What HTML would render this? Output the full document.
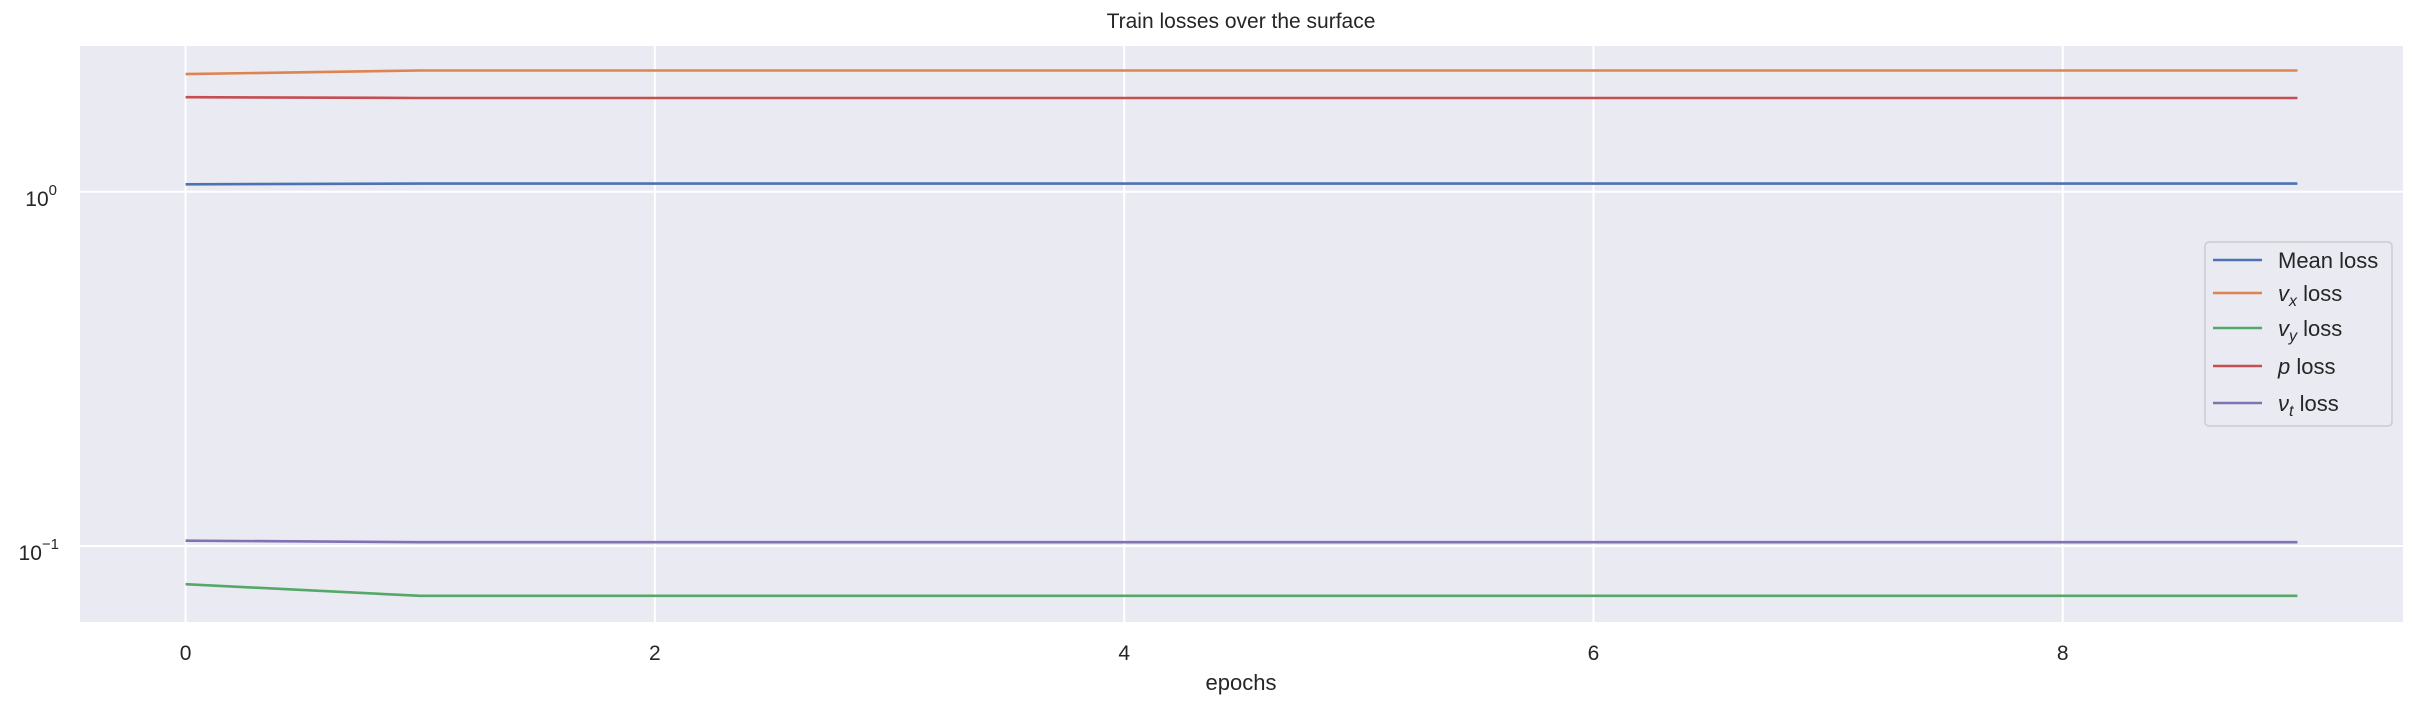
<!DOCTYPE html>
<html><head><meta charset="utf-8"><style>
body{margin:0;background:#fff;width:2418px;height:709px;overflow:hidden}
svg{display:block;font-family:"Liberation Sans",sans-serif}
</style></head><body>
<svg id="chart" width="2418" height="709">
<text x="1241" y="28" font-size="21" fill="#262626" text-anchor="middle">Train losses over the surface</text>
<rect x="80" y="46" width="2323" height="576" fill="#eaeaf2"/>
<g id="grid"></g><g id="series"></g><g id="ticks"></g>
<text x="1241" y="690" font-size="22" fill="#262626" text-anchor="middle">epochs</text>
<g id="legend">
<rect x="2205" y="242" width="187" height="184" rx="4" fill="#eaeaf2" stroke="#cccccc" stroke-width="1.5"/>
</g>
</svg>
<script>
const epochs=[0,1,2,3,4,5,6,7,8,9];
const meanLoss=[1.05,1.055,1.055,1.055,1.055,1.055,1.055,1.055,1.055,1.055];
const vxLoss=[2.15,2.2,2.2,2.2,2.2,2.2,2.2,2.2,2.2,2.2];
const vyLoss=[0.078,0.0723,0.0723,0.0723,0.0723,0.0723,0.0723,0.0723,0.0723,0.0723];
const pLoss=[1.85,1.84,1.84,1.84,1.84,1.84,1.84,1.84,1.84,1.84];
const ntLoss=[0.1035,0.1025,0.1025,0.1025,0.1025,0.1025,0.1025,0.1025,0.1025,0.1025];
const xTicks=[0,2,4,6,8];
const yTicks=[1,0.1];
const yTickLabels=["0","−1"];
const colors=["#4c72b0","#dd8452","#55a868","#c44e52","#8172b3"];
const ns="http://www.w3.org/2000/svg";
const L=80,R=2403,T=46,B=622,xmin=-0.45,xmax=9.45,ymin=Math.log10(0.061),ymax=Math.log10(2.58);
const xs=v=>L+(v-xmin)/(xmax-xmin)*(R-L);
const ys=v=>B-(Math.log10(v)-ymin)/(ymax-ymin)*(B-T);
function mk(tag,attrs,parent){const e=document.createElementNS(ns,tag);for(const k in attrs)e.setAttribute(k,attrs[k]);parent.appendChild(e);return e;}
const grid=document.getElementById('grid'),ticks=document.getElementById('ticks'),ser=document.getElementById('series');
xTicks.forEach(t=>{const x=xs(t);
 const g=mk('line',{x1:x,x2:x,y1:T,y2:B,stroke:'#fff','stroke-width':2},grid);
 
 
 const tx=mk('text',{x:x,y:660,'font-size':21,fill:'#262626','text-anchor':'middle'},ticks);tx.textContent=t;
 
 
});
yTicks.forEach((t,i)=>{const y=ys(t);
 const g=mk('line',{x1:L,x2:R,y1:y,y2:y,stroke:'#fff','stroke-width':2},grid);
 
 
 const tx=mk('text',{x:i==0?57:59,y:y+14,'font-size':21,fill:'#262626','text-anchor':'end'},ticks);
 
 
 tx.textContent='10';
 const s=mk('tspan',{dy:-11,'font-size':15},tx);s.textContent=yTickLabels[i];
});
[meanLoss,vxLoss,vyLoss,pLoss,ntLoss].forEach((arr,i)=>{
 const p=mk('polyline',{points:arr.map((v,j)=>xs(epochs[j])+','+ys(v)).join(' '),fill:'none',stroke:colors[i],'stroke-width':2.6},ser);
 
 
});
const lg=document.getElementById('legend');
const rowsY=[260,293,328,366,403];
const labels=[[["Mean loss",""]],[["v","i"],["x","sub"],[" loss",""]],[["v","i"],["y","sub"],[" loss",""]],[["p","i"],[" loss",""]],[["ν","i"],["t","sub"],[" loss",""]]];
rowsY.forEach((y,i)=>{
 const l=mk('line',{x1:2213,x2:2262,y1:y,y2:y,stroke:colors[i],'stroke-width':2.6},lg);
 
 
 const t=mk('text',{x:2278,y:y+8,'font-size':22,fill:'#262626'},lg);
 
 
 let sub=false;
 labels[i].forEach(([s,st])=>{const a={};
  if(st=='i')a['font-style']='italic';
  if(st=='sub'){a['font-style']='italic';a['font-size']=16;a.dy=5;sub=true;}
  else if(sub){a.dy=-5;sub=false;}
  const sp=mk('tspan',a,t);sp.textContent=s;});
});
</script>
</body></html>
